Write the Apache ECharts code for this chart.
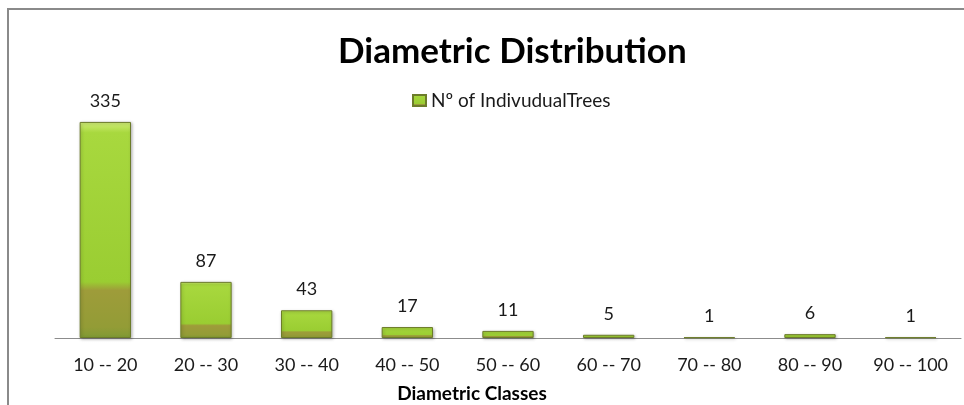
<!DOCTYPE html>
<html>
<head>
<meta charset="utf-8">
<style>
  html, body { margin: 0; padding: 0; background: #fff; }
  #chart { width: 964px; height: 405px; }
</style>
<script src="https://cdn.jsdelivr.net/npm/echarts@6/dist/echarts.min.js"></script>
</head>
<body>
<div id="chart"></div>
<script>
// 数据
const classes = ['10 -- 20', '20 -- 30', '30 -- 40', '40 -- 50', '50 -- 60', '60 -- 70', '70 -- 80', '80 -- 90', '90 -- 100']
const trees = [335, 87, 43, 17, 11, 5, 1, 6, 1]
const seriesName = 'Nº of IndivudualTrees'

const FONT = 'Lato, "Open Sans", sans-serif'

// 柱子的渐变（上亮绿，下偏橄榄色）
const barFill = new echarts.graphic.LinearGradient(0, 0, 0, 1, [
  { offset: 0, color: '#d2ee78' },
  { offset: 0.05, color: '#a8d83e' },
  { offset: 0.74, color: '#9acd32' },
  { offset: 0.78, color: '#9e9c3a' },
  { offset: 0.95, color: '#939c36' },
  { offset: 1, color: '#7f9a34' }
])

const chart = echarts.init(document.getElementById('chart'))

chart.setOption({
  backgroundColor: '#fff',
  animation: false,
  title: {
    text: 'Diametric Distribution',
    left: 333,
    top: 29,
    textStyle: { fontFamily: FONT, fontSize: 35, fontWeight: 'bold', color: '#000' }
  },
  legend: {
    data: [seriesName],
    left: 407,
    top: 86,
    icon: 'rect',
    itemWidth: 13,
    itemHeight: 11,
    itemGap: 8,
    textStyle: { fontFamily: FONT, fontSize: 19, color: '#1a1a1a' }
  },
  grid: { left: 55, right: 3, top: 80, bottom: 67, containLabel: false, outerBoundsMode: 'none' },
  xAxis: {
    type: 'category',
    data: classes,
    name: 'Diametric Classes',
    nameLocation: 'middle',
    nameGap: 46,
    nameTextStyle: {
      fontFamily: FONT, fontSize: 19, fontWeight: 'bold', color: '#000',
      padding: [0, 72, 0, 0]
    },
    axisLine: { lineStyle: { color: '#8c8c8c', width: 1 } },
    axisTick: { show: false },
    axisLabel: { fontFamily: FONT, fontSize: 18, color: '#1a1a1a', margin: 18, interval: 0 }
  },
  yAxis: {
    type: 'value',
    min: 0,
    max: 400,
    show: false
  },
  series: [{
    name: seriesName,
    type: 'bar',
    data: trees,
    barWidth: '51%',
    itemStyle: {
      color: barFill,
      borderColor: '#6c7c2a',
      borderWidth: 1,
      shadowColor: 'rgba(0,0,0,0.25)',
      shadowBlur: 3,
      shadowOffsetX: 1,
      shadowOffsetY: 1
    },
    label: {
      show: true,
      position: 'top',
      distance: 12,
      fontFamily: FONT,
      fontSize: 18,
      color: '#1a1a1a'
    }
  }],
  graphic: [{
    type: 'rect',
    silent: true,
    shape: { x: 8, y: 9, width: 1000, height: 500 },
    style: { fill: 'none', stroke: '#8a8a8a', lineWidth: 2 }
  }]
})
</script>
</body>
</html>
